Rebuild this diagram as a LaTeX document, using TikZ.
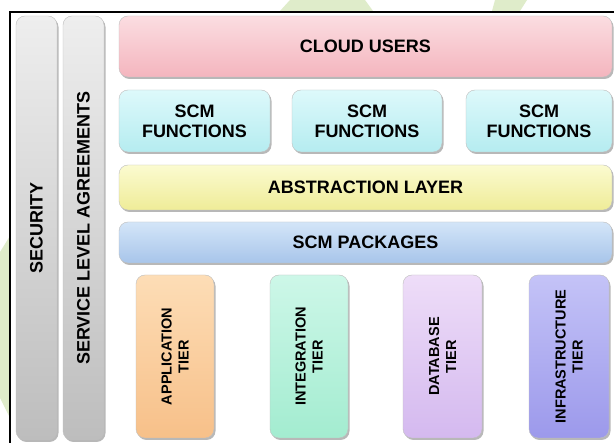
\documentclass[tikz,border=0pt]{standalone}
\usepackage{fontspec}
\setmainfont{Liberation Sans}
\usetikzlibrary{shadows}

\definecolor{leafgreen}{HTML}{DFECCA}
\definecolor{usertop}{HTML}{FBDDE1}
\definecolor{userbot}{HTML}{F4B5BE}
\definecolor{functop}{HTML}{DDF9FB}
\definecolor{funcbot}{HTML}{B5ECF0}
\definecolor{abstop}{HTML}{FBFBD0}
\definecolor{absbot}{HTML}{EFEC98}
\definecolor{pkgtop}{HTML}{D3E5F8}
\definecolor{pkgbot}{HTML}{A8C5EA}
\definecolor{apptop}{HTML}{FDDDB6}
\definecolor{appbot}{HTML}{F7C089}
\definecolor{inttop}{HTML}{CDF7E8}
\definecolor{intbot}{HTML}{A3ECD0}
\definecolor{dbtop}{HTML}{EEDDF8}
\definecolor{dbbot}{HTML}{D4B9EF}
\definecolor{inftop}{HTML}{C4C3F7}
\definecolor{infbot}{HTML}{9C99EB}
\definecolor{bartop}{HTML}{EEEEEE}
\definecolor{barbot}{HTML}{BDBDBD}

\tikzset{
  tile/.style={rectangle, rounded corners=9pt, inner sep=0pt, draw=black!25,
    drop shadow={shadow xshift=1.5pt, shadow yshift=-2pt, fill=black!55}},
  caption/.style={font=\bfseries\fontsize{18}{20}\selectfont, align=center},
  tiercaption/.style={font=\bfseries\fontsize{14.5}{17}\selectfont, align=center, rotate=90},
}

\begin{document}
\begin{tikzpicture}[x=1pt,y=-1pt]
  \useasboundingbox (0,0) rectangle (614,443);
  \fill[white] (0,0) rectangle (614,443);
  % faint leaves outside the frame
  \begin{scope}
    \clip (0,0) rectangle (614,11);
    \fill[leafgreen] (280,11) -- (290,0) -- (365,0) -- (373,11) -- cycle;
    \fill[leafgreen] (492,11) -- (495,0) -- (527,0) -- (520,11) -- cycle;
  \end{scope}
  \begin{scope}
    \clip (0,0) rectangle (9,443);
    \fill[leafgreen] (10,236) -- (0,252) -- (0,398) -- (10,418) -- cycle;
  \end{scope}
  \draw[line width=2.5pt] (10,443) -- (10,12) -- (614,12);

  % side bars
  \node[tile, top color=bartop, bottom color=barbot, minimum width=41pt, minimum height=424pt] (security) at (36.5,228) {};
  \node[caption, rotate=90] (securitytext) at (security.center) {SECURITY};
  \node[tile, top color=bartop, bottom color=barbot, minimum width=41pt, minimum height=424pt] (sla) at (83.5,228) {};
  \node[caption, rotate=90] (slatext) at (sla.center) {SERVICE LEVEL AGREEMENTS};

  % layers
  \node[tile, top color=usertop, bottom color=userbot, minimum width=493pt, minimum height=61pt] (users) at (365.5,46.5) {};
  \node[caption] (userstext) at (users.center) {CLOUD USERS};
  \node[tile, top color=functop, bottom color=funcbot, minimum width=151pt, minimum height=62pt] (funcA) at (194.5,121) {};
  \node[caption] (funcAtext) at (funcA.center) {SCM\\FUNCTIONS};
  \node[tile, top color=functop, bottom color=funcbot, minimum width=150pt, minimum height=62pt] (funcB) at (367,121) {};
  \node[caption] (funcBtext) at (funcB.center) {SCM\\FUNCTIONS};
  \node[tile, top color=functop, bottom color=funcbot, minimum width=146pt, minimum height=62pt] (funcC) at (539,121) {};
  \node[caption] (funcCtext) at (funcC.center) {SCM\\FUNCTIONS};
  \node[tile, top color=abstop, bottom color=absbot, minimum width=493pt, minimum height=45pt] (abstraction) at (365.5,187.5) {};
  \node[caption] (abstractiontext) at (abstraction.center) {ABSTRACTION LAYER};
  \node[tile, top color=pkgtop, bottom color=pkgbot, minimum width=493pt, minimum height=41pt] (packages) at (365.5,242.5) {};
  \node[caption] (packagestext) at (packages.center) {SCM PACKAGES};

  % tiers
  \node[tile, top color=apptop, bottom color=appbot, minimum width=78pt, minimum height=163pt] (application) at (175,356.5) {};
  \node[tiercaption] (applicationtext) at (application.center) {APPLICATION\\TIER};
  \node[tile, top color=inttop, bottom color=intbot, minimum width=78pt, minimum height=163pt] (integration) at (309,356.5) {};
  \node[tiercaption] (integrationtext) at (integration.center) {INTEGRATION\\TIER};
  \node[tile, top color=dbtop, bottom color=dbbot, minimum width=79pt, minimum height=163pt] (database) at (442.5,356.5) {};
  \node[tiercaption] (databasetext) at (database.center) {DATABASE\\TIER};
  \node[tile, top color=inftop, bottom color=infbot, minimum width=80pt, minimum height=163pt] (infrastructure) at (569,356.5) {};
  \node[tiercaption] (infrastructuretext) at (infrastructure.center) {INFRASTRUCTURE\\TIER};
\end{tikzpicture}
\end{document}
